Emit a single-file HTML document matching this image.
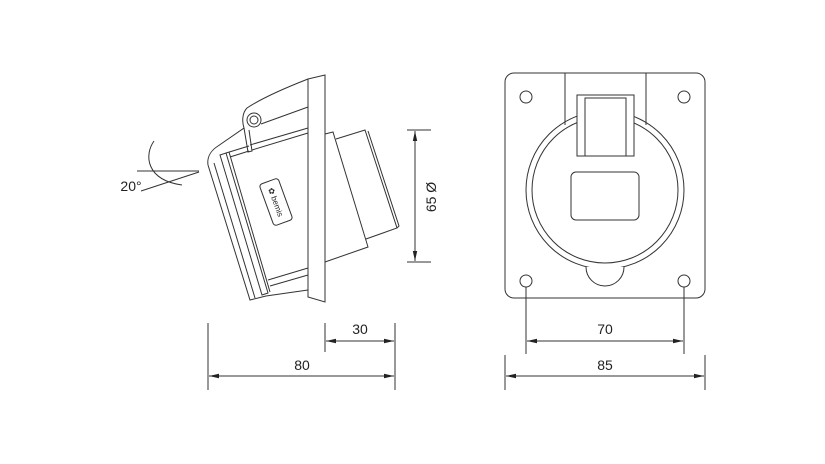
<!DOCTYPE html>
<html><head><meta charset="utf-8"><style>
html,body{margin:0;padding:0;background:#fff;}
svg{display:block;}
text{font-family:"Liberation Sans",sans-serif;fill:#222;}
</style></head><body>
<svg width="825" height="464" viewBox="0 0 825 464" xmlns="http://www.w3.org/2000/svg">
<defs>
<marker id="a" markerWidth="10" markerHeight="6" refX="10" refY="3" orient="auto-start-reverse" markerUnits="userSpaceOnUse">
<path d="M0,0.8 L10,3 L0,5.2 Z" fill="#222"/></marker>
</defs>
<g fill="none" stroke="#333" stroke-width="1">
<line x1="137" y1="171" x2="199" y2="171"/>
<line x1="141" y1="191" x2="199" y2="172"/>
<path d="M154,141 C144,155 146,180 182,185"/>
<path d="M308,79 L325,75 L325,302 L308,297 Z"/>
<path d="M308,79 C285,88 262,98 247,108 C242,113 242,122 244,128 L218,146 C210,151 207,158 208,165"/>
<circle cx="254" cy="120" r="7"/>
<circle cx="254" cy="120" r="4"/>
<path d="M261,124 L308,107"/>
<path d="M244,128 L248,152 L252,151 L249,130"/>
<path d="M208,165 L250,300 L266,296"/>
<path d="M214,163 L255,298"/>
<path d="M220,155 L226,153 L268,293 L262,295 Z"/>
<path d="M229,152 L270,292"/>
<path d="M226,153 L249,146"/>
<path d="M230,157 L249,151"/>
<path d="M252,150 L308,133"/>
<path d="M250,145 L308,128"/>
<path d="M268,280 L308,268"/>
<path d="M270,286 L308,275"/>
<path d="M266,296 L308,290"/>
<g transform="translate(276,202) rotate(-20)">
<rect x="-10" y="-22" width="20" height="44" rx="3"/>
</g>
<path d="M325,134 L333,132 L368,247 L325,262"/>
<path d="M336,139 L365,130 L397,228 L366,239"/>
<path d="M368,131 L399,226 L397,228"/>
<line x1="208" y1="323" x2="208" y2="390"/>
<line x1="395" y1="323" x2="395" y2="390"/>
<line x1="325" y1="323" x2="325" y2="352"/>
<line x1="209" y1="376" x2="394" y2="376" marker-end="url(#a)" marker-start="url(#a)"/>
<line x1="326" y1="341" x2="394" y2="341" marker-end="url(#a)" marker-start="url(#a)"/>
<line x1="407" y1="130" x2="431" y2="130"/>
<line x1="407" y1="262" x2="431" y2="262"/>
<line x1="415" y1="131" x2="415" y2="261" marker-end="url(#a)" marker-start="url(#a)"/>
<rect x="505" y="73" width="200" height="225" rx="9"/>
<circle cx="526" cy="97" r="6"/><circle cx="684" cy="97" r="6"/>
<circle cx="526" cy="281" r="6"/><circle cx="684" cy="281" r="6"/>
<path d="M565,73 L565,125 M646,73 L646,125"/>
<circle cx="605" cy="190" r="79"/>
<circle cx="605" cy="190" r="73"/>
<rect x="577" y="95" width="57" height="61" fill="#fff"/>
<path d="M585,156 L585,98 L626,98 L626,156"/>
<path d="M586,267 A19,19 0 0 0 624,267 Z" fill="#fff" stroke="none"/>
<path d="M586,267 A19,19 0 0 0 624,267"/>
<rect x="571" y="172" width="68" height="48" rx="5"/>
<line x1="526" y1="287" x2="526" y2="354"/>
<line x1="684" y1="287" x2="684" y2="354"/>
<line x1="505" y1="355" x2="505" y2="390"/>
<line x1="705" y1="355" x2="705" y2="390"/>
<line x1="527" y1="341" x2="683" y2="341" marker-end="url(#a)" marker-start="url(#a)"/>
<line x1="506" y1="376" x2="704" y2="376" marker-end="url(#a)" marker-start="url(#a)"/>
</g>
<g transform="translate(276,202) rotate(70)"><text x="0" y="3" font-size="8" text-anchor="middle">✿ bemis</text></g>
<text x="131" y="191" font-size="14" text-anchor="middle">20°</text>
<text x="360" y="334" font-size="14" text-anchor="middle">30</text>
<text x="302" y="370" font-size="14" text-anchor="middle">80</text>
<text x="605" y="334" font-size="14" text-anchor="middle">70</text>
<text x="605" y="370" font-size="14" text-anchor="middle">85</text>
<text transform="translate(436,197) rotate(-90)" font-size="14" text-anchor="middle">65 Ø</text>
</svg>
</body></html>
